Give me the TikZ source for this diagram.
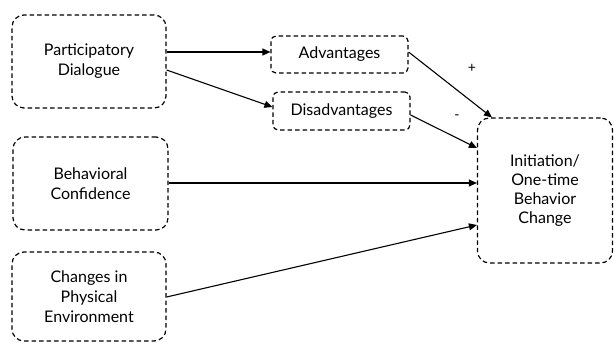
\documentclass[tikz,border=0pt]{standalone}
\usepackage{fontspec}
\setmainfont{Lato}
\usetikzlibrary{arrows.meta}
\begin{document}
\begin{tikzpicture}[x=1pt,y=-1pt,
  box/.style={draw, dash pattern=on 4.5pt off 3pt, line width=1.2pt, rounded corners=12pt, align=center, font=\fontsize{16}{20}\selectfont, inner sep=0pt},
  sbox/.style={box, rounded corners=5pt},
  arr/.style={-{Triangle[length=8pt,width=7pt]}, line width=1.1pt},
  lbl/.style={font=\fontsize{14}{16}\selectfont, inner sep=0pt}]
\useasboundingbox (0,0) rectangle (614,343);
\node[box, minimum width=154pt, minimum height=93pt] (pd) at (89,61.5) {Participatory\\Dialogue};
\node[sbox, minimum width=137pt, minimum height=37pt] (adv) at (339.5,54.5) {Advantages};
\node[sbox, minimum width=137pt, minimum height=38pt] (dis) at (341.5,111) {Disadvantages};
\node[box, minimum width=135pt, minimum height=145pt, font=\fontsize{16}{19}\selectfont] (init) at (545,190.5) {Initiation/\\One-time\\Behavior\\Change};
\node[box, minimum width=155pt, minimum height=93pt] (bc) at (90.5,183.5) {Behavioral\\Confidence};
\node[box, minimum width=154pt, minimum height=89pt] (cpe) at (89,296.5) {Changes in\\Physical\\Environment};
\draw[arr] ([yshift=9.5pt]pd.east) -- ([yshift=2.5pt]adv.west);
\draw[arr] ([yshift=-8.5pt]pd.east) -- ([yshift=4pt]dis.west);
\draw[arr] ([yshift=2.5pt]adv.east) -- ([xshift=15pt]init.north west);
\draw[arr] ([yshift=-4pt]dis.east) -- ([yshift=42.5pt]init.west);
\draw[arr] ([yshift=0.5pt]bc.east) -- ([yshift=7.5pt]init.west);
\draw[arr] ([yshift=-0.5pt]cpe.east) -- ([yshift=-34.5pt]init.west);
\node[lbl] (plus) at (472,68) {+};
\node[lbl] (minus) at (457,117) {-};
\end{tikzpicture}
\end{document}
